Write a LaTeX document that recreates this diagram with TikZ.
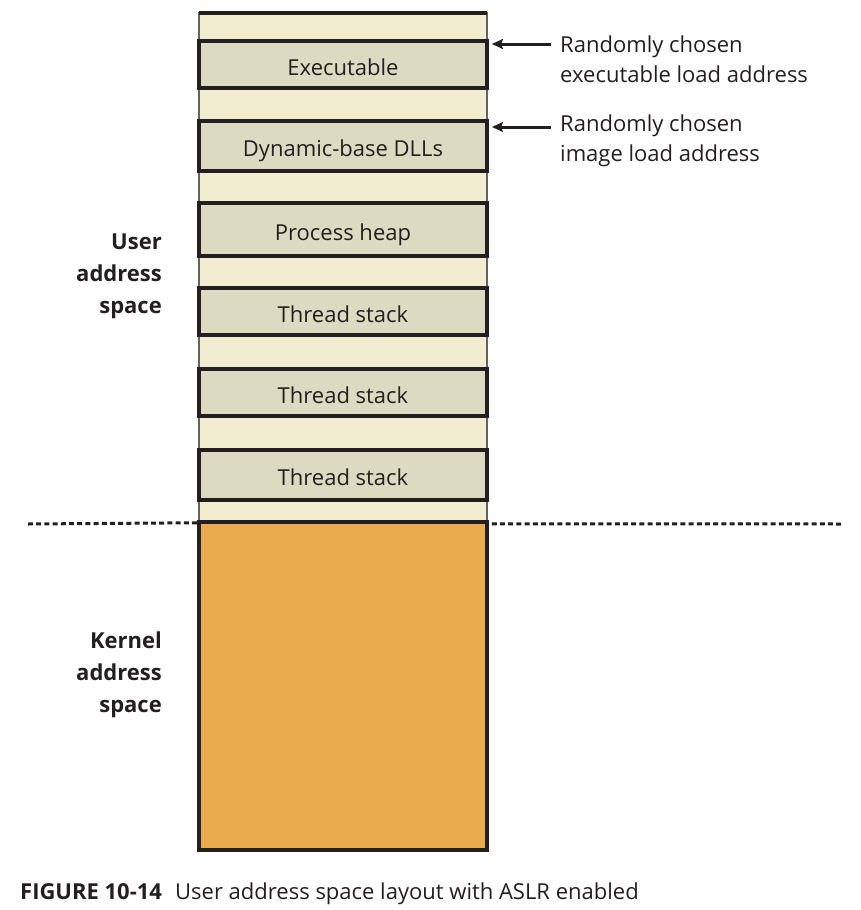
\documentclass[tikz,border=0pt]{standalone}
\usepackage{fontspec}
\setmainfont{Open Sans}
\usetikzlibrary{arrows.meta}
\definecolor{cream}{HTML}{F2EDD0}
\definecolor{boxfill}{HTML}{DCDAC0}
\definecolor{kern}{HTML}{EAAA4E}
\definecolor{ink}{HTML}{231F20}
\tikzset{
  seg/.style={draw=ink, line width=4pt, fill=boxfill, minimum width=288pt, inner sep=0pt, text height=21pt, text depth=0pt, font=\fontsize{22}{26}\selectfont, text=ink},
  lbl/.style={font=\fontsize{22}{30}\selectfont, text=ink, align=left, anchor=west, inner sep=0pt},
  side/.style={font=\bfseries\fontsize{22}{32}\selectfont, text=ink, align=right, anchor=east, inner sep=0pt},
  ptr/.style={draw=ink, line width=3pt, -{Stealth[length=11pt,width=10pt,inset=2pt]}},
}
\begin{document}
\begin{tikzpicture}[x=1pt,y=-1pt]
\useasboundingbox (0,0) rectangle (861,910);
% user column background
\node[draw=ink!70, line width=1.5pt, fill=cream, minimum width=288pt, minimum height=509pt, inner sep=0pt] (col) at (343,267.5) {};
\draw[ink, line width=4pt] (199,13) -- (487,13);
% segments
\node[seg, minimum height=47pt] (exe) at (343,64.5) {Executable};
\node[seg, minimum height=50pt] (dll) at (343,146) {Dynamic-base DLLs};
\node[seg, minimum height=53pt] (heap) at (343,229.5) {Process heap};
\node[seg, minimum height=47pt] (ts1) at (343,311.5) {Thread stack};
\node[seg, minimum height=47pt] (ts2) at (343,392.5) {Thread stack};
\node[seg, minimum height=50pt] (ts3) at (343,475) {Thread stack};
% kernel
\node[draw=ink, line width=4.5pt, fill=kern, minimum width=288pt, minimum height=328pt, inner sep=0pt] (kernel) at (343,686) {};
% dashed separator
\coordinate (dl) at (28,524);
\coordinate (dr) at (843,524);
\draw[ink, line width=3pt, dash pattern=on 5pt off 3.2pt] (dl) -- (col.south west);
\draw[ink, line width=3pt, dash pattern=on 5pt off 3.2pt] (col.south east) ++(4,1) -- (dr);
% arrows and labels
\node[lbl] (l1) at (560,59) {Randomly chosen\\executable load address};
\node[lbl] (l2) at (560,141) {Randomly chosen\\image load address};
\coordinate (a1s) at (551,44);
\coordinate (a1e) at (492,44);
\coordinate (a2s) at (551,127);
\coordinate (a2e) at (492,127);
\draw[ptr] (a1s) -- (a1e);
\draw[ptr] (a2s) -- (a2e);
% side labels
\node[side] (user) at (162,276.5) {User\\address\\space};
\node[side] (kl) at (162,675) {Kernel\\address\\space};
% caption
\node[anchor=west, inner sep=0pt, text=ink, font=\fontsize{22}{26}\selectfont] (cap) at (20,894) {\textbf{FIGURE 10-14}\hspace{0.6em}User address space layout with ASLR enabled};
\end{tikzpicture}
\end{document}
